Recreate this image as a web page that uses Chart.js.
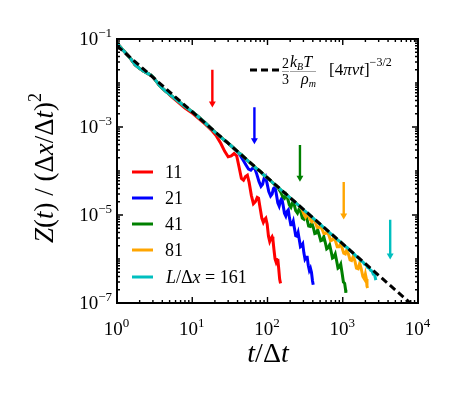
<!DOCTYPE html>
<html>
<head>
<meta charset="utf-8">
<script src="https://cdn.jsdelivr.net/npm/chart.js@4"></script>
<style>
  html, body { margin: 0; padding: 0; background: #fff; }
  #contenedor { width: 463px; height: 397px; }
</style>
</head>
<body>
<div id="contenedor"><canvas id="grafico" width="463" height="397"></canvas></div>
<script>
// ==== valores (t/Δt , Z) ====
const tInicio = [1, 1.15, 1.35, 1.55, 1.74, 1.95, 2.24, 2.55, 2.9, 3.3, 3.74, 4.5];
const zInicio = [0.08, 0.061, 0.045, 0.034, 0.026, 0.022, 0.0187, 0.0165, 0.0147, 0.0112, 0.0085, 0.0064];

const tMedio = [5.3, 6.24, 8, 10.3, 13, 15];
const zMedio = [0.0051, 0.0041, 0.0029, 0.00215, 0.00152, 0.00122];

const tRojo = [5.3, 6.24, 8, 10.3, 13, 15, 18, 21, 24, 27, 30, 33, 36, 39, 42, 45, 48, 51, 54, 57, 61, 65, 69, 73, 76, 80, 84, 88, 92, 95, 99, 103, 107, 111, 115, 118, 122, 126, 130, 134, 137, 141, 145, 149];
const zRojo = [0.0049, 0.0039, 0.0027, 0.002, 0.00142, 0.00115, 0.00085, 0.00062, 0.00042, 0.00028, 0.00021, 0.00022, 0.00025, 0.00022, 0.00012, 0.000068, 0.000062, 0.000075, 0.00008, 0.000055, 0.000028, 0.000018, 0.00002, 0.000025, 0.000024, 0.000014, 0.0000085, 0.0000068, 0.000008, 0.0000085, 0.0000062, 0.0000033, 0.0000025, 0.0000029, 0.0000032, 0.0000028, 0.0000016, 0.000001, 0.00000085, 0.00000098, 0.000001, 0.0000006, 0.00000035, 0.00000028];

const tCian = [17, 20, 25, 30, 35, 40, 45, 50, 60, 70, 80, 90, 100, 110, 125, 140, 160, 180, 200, 225, 250, 280, 310, 350, 400, 450, 500, 560, 620, 700, 780, 860, 950, 1050, 1150, 1250, 1350, 1450, 1550, 1650, 1750, 1850, 1950, 2050, 2150, 2250, 2350, 2450, 2550, 2650, 2750];
const zCian = [0.00099, 0.00077, 0.00055, 0.00043, 0.00034, 0.000272, 0.000235, 0.000196, 0.00015, 0.000117, 0.000098, 0.00008, 0.00007, 0.00006, 0.000049, 0.000042, 0.000034, 0.0000288, 0.0000245, 0.0000205, 0.0000175, 0.0000148, 0.0000126, 0.0000106, 0.0000086, 0.0000072, 0.0000062, 0.0000052, 0.0000045, 0.0000037, 0.0000032, 0.0000027, 0.0000024, 0.000002, 0.0000018, 0.00000155, 0.0000014, 0.00000124, 0.0000011, 0.00000102, 0.0000009, 0.00000086, 0.00000076, 0.00000073, 0.00000064, 0.00000062, 0.00000055, 0.00000053, 0.00000045, 0.00000044, 0.00000033];

const tAzul = [44, 48, 52, 56, 60, 64, 68, 72, 77, 82, 86, 90, 94, 98, 104, 110, 115, 120, 126, 131, 137, 143, 149, 155, 161, 168, 175, 182, 189, 196, 204, 212, 220, 228, 237, 246, 255, 264, 274, 284, 294, 304, 315, 326, 337, 348, 360, 372, 384, 396, 405];
const zAzul = [0.00022, 0.00017, 0.000135, 0.00011, 0.000104, 0.000118, 0.000112, 0.000085, 0.000058, 0.000045, 0.00005, 0.000068, 0.000075, 0.000055, 0.000034, 0.000027, 0.00003, 0.00004, 0.000043, 0.00003, 0.000019, 0.000016, 0.000021, 0.000024, 0.000017, 0.000011, 0.0000095, 0.000012, 0.000013, 0.0000085, 0.000006, 0.000006, 0.0000072, 0.000005, 0.0000034, 0.0000033, 0.000004, 0.0000028, 0.0000019, 0.000002, 0.0000022, 0.0000014, 0.000001, 0.0000011, 0.0000011, 0.00000072, 0.00000055, 0.00000062, 0.0000005, 0.00000032, 0.00000026];

const tVerde = [130, 140, 150, 160, 168, 176, 185, 195, 205, 215, 225, 237, 250, 262, 275, 290, 305, 320, 335, 352, 370, 388, 406, 425, 445, 465, 487, 510, 535, 560, 585, 612, 640, 670, 700, 730, 760, 795, 830, 865, 900, 940, 980, 1020, 1060, 1090, 1100];
const zVerde = [0.000047, 0.00004, 0.000033, 0.000026, 0.000024, 0.000029, 0.000024, 0.000017, 0.000015, 0.000019, 0.000018, 0.0000125, 0.000011, 0.0000135, 0.0000125, 0.0000085, 0.000008, 0.0000095, 0.000008, 0.0000056, 0.0000055, 0.0000065, 0.0000052, 0.0000038, 0.0000039, 0.0000046, 0.0000035, 0.0000026, 0.0000027, 0.0000032, 0.0000024, 0.0000017, 0.0000018, 0.0000021, 0.0000015, 0.00000105, 0.0000011, 0.0000013, 0.0000009, 0.00000062, 0.00000065, 0.00000076, 0.00000048, 0.0000003, 0.00000028, 0.0000002, 0.00000017];

const tNaranja = [270, 290, 305, 320, 335, 350, 370, 390, 410, 430, 455, 480, 505, 530, 560, 590, 620, 650, 690, 725, 760, 800, 845, 890, 935, 980, 1030, 1080, 1130, 1190, 1250, 1310, 1380, 1450, 1520, 1600, 1680, 1760, 1850, 1940, 2000, 2060, 2100, 2140];
const zNaranja = [0.0000155, 0.000013, 0.0000105, 0.000009, 0.0000105, 0.00001, 0.0000078, 0.000007, 0.000008, 0.000007, 0.0000053, 0.0000052, 0.0000058, 0.0000048, 0.0000038, 0.0000038, 0.0000042, 0.0000036, 0.0000026, 0.0000027, 0.0000031, 0.0000026, 0.0000019, 0.0000019, 0.0000022, 0.0000018, 0.00000135, 0.0000013, 0.0000016, 0.0000013, 0.00000095, 0.00000092, 0.00000115, 0.0000009, 0.00000062, 0.0000006, 0.0000008, 0.0000006, 0.0000004, 0.00000035, 0.00000045, 0.00000035, 0.00000024, 0.00000022];

// línea teórica (2/3)(kBT/ρm)[4πνt]^(-3/2)
const tTeoria = [1, 10000];
const zTeoria = [0.07, 0.00000007];

// flechas: posición en t, extremo superior e inferior
const tFlechas = [18.5, 67, 270, 1030, 4270];
const zFlechaArriba = [0.02, 0.0028, 0.00039, 0.000056, 0.0000078];
const zFlechaAbajo = [0.0034, 0.0005, 0.00007, 0.0000098, 0.0000012];
const coloresFlechas = ['#ff0000', '#0000ff', '#008000', '#ffa500', '#00bfbf'];

// ticks
const xTicks = [1, 10, 100, 1000, 10000];
const xExpon = ['0', '1', '2', '3', '4'];
const yTicks = [1e-1, 1e-3, 1e-5, 1e-7];
const yExpon = ['\u22121', '\u22123', '\u22125', '\u22127'];

const etiquetasLeyenda = ['11', '21', '41', '81'];
const coloresLeyenda = ['#ff0000', '#0000ff', '#008000', '#ffa500', '#00bfbf'];

// ==== helpers ====
function puntos(ts, zs) {
    return ts.map((t, i) => ({ x: t, y: zs[i] }));
}
function hasta(ts, zs, tMax) {
    const out = [];
    ts.forEach((t, i) => { if (t <= tMax) out.push({ x: t, y: zs[i] }); });
    return out;
}

const base = puntos(tInicio, zInicio);
const baseMedio = puntos(tMedio, zMedio);

const serieRoja = base.concat(puntos(tRojo, zRojo));
const serieAzul = base.concat(baseMedio, hasta(tCian, zCian, 40), puntos(tAzul, zAzul));
const serieVerde = base.concat(baseMedio, hasta(tCian, zCian, 125), puntos(tVerde, zVerde));
const serieNaranja = base.concat(baseMedio, hasta(tCian, zCian, 250), puntos(tNaranja, zNaranja));
const serieCian = base.concat(baseMedio, puntos(tCian, zCian));

function serie(data, color, orden) {
    return { data: data, borderColor: color, borderWidth: 3, pointRadius: 0, fill: false, tension: 0, order: orden };
}

const datasets = [
    serie(serieRoja, '#ff0000', 16),
    serie(serieAzul, '#0000ff', 15),
    serie(serieVerde, '#008000', 14),
    serie(serieNaranja, '#ffa500', 13),
    serie(serieCian, '#00bfbf', 12),
    { data: puntos(tTeoria, zTeoria), borderColor: '#000', borderWidth: 3, borderDash: [7, 4], pointRadius: 0, fill: false, order: 11 }
];
tFlechas.forEach((t, i) => {
    datasets.push({
        data: [{ x: t, y: zFlechaArriba[i] }, { x: t, y: zFlechaAbajo[i] }],
        borderColor: coloresFlechas[i], backgroundColor: coloresFlechas[i],
        borderWidth: 2.4, pointRadius: [0, 4], pointStyle: 'triangle', rotation: 180,
        pointBorderWidth: 0, fill: false, order: i
    });
});

// ==== texto estilo LaTeX ====
const SERIF = '"Liberation Serif", "DejaVu Serif", serif';
function fuente(tam, italica) {
    return (italica ? 'italic ' : '') + tam + 'px ' + SERIF;
}
// piezas: [texto, tamaño, italica, desplazamientoY]
function anchoPiezas(ctx, piezas) {
    let w = 0;
    piezas.forEach(p => { ctx.font = fuente(p[1], p[2]); w += ctx.measureText(p[0]).width; });
    return w;
}
function dibujarPiezas(ctx, piezas, x, y) {
    let cx = x;
    piezas.forEach(p => {
        ctx.font = fuente(p[1], p[2]);
        ctx.fillText(p[0], cx, y + (p[3] || 0));
        cx += ctx.measureText(p[0]).width;
    });
    return cx;
}
function potencia(ctx, x, y, exp, alinear) {
    const piezas = [['10', 19, false, 0], [exp, 13, false, -8]];
    const w = anchoPiezas(ctx, piezas) + 1;
    const x0 = alinear === 'centro' ? x - w / 2 : x - w;
    dibujarPiezas(ctx, piezas, x0, y);
}

const decoracion = {
    id: 'decoracion',
    afterDatasetsDraw(chart) {
        const ctx = chart.ctx;
        const a = chart.chartArea;
        const sx = chart.scales.x, sy = chart.scales.y;
        ctx.save();
        ctx.fillStyle = '#000';
        ctx.strokeStyle = '#000';
        ctx.textAlign = 'left';
        ctx.textBaseline = 'alphabetic';

        // ticks hacia adentro en los cuatro lados
        ctx.lineWidth = 1.4;
        function tickX(v, largo) {
            const px = sx.getPixelForValue(v);
            ctx.beginPath();
            ctx.moveTo(px, a.bottom); ctx.lineTo(px, a.bottom - largo);
            ctx.moveTo(px, a.top); ctx.lineTo(px, a.top + largo);
            ctx.stroke();
        }
        function tickY(v, largo) {
            const py = sy.getPixelForValue(v);
            ctx.beginPath();
            ctx.moveTo(a.left, py); ctx.lineTo(a.left + largo, py);
            ctx.moveTo(a.right, py); ctx.lineTo(a.right - largo, py);
            ctx.stroke();
        }
        xTicks.forEach((v, k) => {
            tickX(v, 6);
            if (k < xTicks.length - 1) for (let m = 2; m <= 9; m++) tickX(v * m, 3);
        });
        for (let d = -7; d < -1; d++) {
            for (let m = 1; m <= 9; m++) {
                if (m === 1 && (d === -7 || d === -5 || d === -3)) continue;
                tickY(m * Math.pow(10, d), 3);
            }
        }
        yTicks.forEach(v => tickY(v, 6));

        // marco
        ctx.lineWidth = 2;
        ctx.strokeRect(a.left, a.top, a.right - a.left, a.bottom - a.top);

        // etiquetas de ticks
        xTicks.forEach((v, i) => potencia(ctx, sx.getPixelForValue(v), 335, xExpon[i], 'centro'));
        yTicks.forEach((v, i) => potencia(ctx, a.left - 4, sy.getPixelForValue(v) + 6, yExpon[i], 'derecha'));

        // título eje x
        const tituloX = [['t', 28, true], ['/', 28, false], ['\u0394', 28, false], ['t', 28, true]];
        dibujarPiezas(ctx, tituloX, 268 - anchoPiezas(ctx, tituloX) / 2, 362);

        // título eje y
        const tituloY = [['Z', 27, true], ['(', 27, false], ['t', 27, true], [')', 27, false], [' / (', 27, false],
            ['\u0394', 27, false], ['x', 27, true], ['/', 27, false], ['\u0394', 27, false], ['t', 27, true], [')', 27, false], ['2', 18, false, -12]];
        ctx.save();
        ctx.translate(53, 168);
        ctx.rotate(-Math.PI / 2);
        dibujarPiezas(ctx, tituloY, -anchoPiezas(ctx, tituloY) / 2, 0);
        ctx.restore();

        // leyenda de series
        const yLeyenda = [172, 198, 224, 250, 277];
        ctx.lineWidth = 3;
        coloresLeyenda.forEach((c, i) => {
            ctx.strokeStyle = c;
            ctx.beginPath();
            ctx.moveTo(132, yLeyenda[i]); ctx.lineTo(153, yLeyenda[i]);
            ctx.stroke();
        });
        ctx.fillStyle = '#000';
        etiquetasLeyenda.forEach((txt, i) => dibujarPiezas(ctx, [[txt, 18, false]], 165, yLeyenda[i] + 6));
        dibujarPiezas(ctx, [['L', 18, true], ['/', 18, false], ['\u0394', 18, false], ['x', 18, true], [' = ', 18, false], ['161', 18, false]], 166, 283);

        // leyenda de la teoría
        ctx.strokeStyle = '#000';
        ctx.lineWidth = 3;
        ctx.setLineDash([7, 4]);
        ctx.beginPath(); ctx.moveTo(250, 70); ctx.lineTo(279, 70); ctx.stroke();
        ctx.setLineDash([]);
        ctx.lineWidth = 0.6;
        ctx.strokeStyle = '#666';
        ctx.beginPath(); ctx.moveTo(282, 71.5); ctx.lineTo(289, 71.5); ctx.moveTo(290, 71.5); ctx.lineTo(316, 71.5); ctx.stroke();
        dibujarPiezas(ctx, [['2', 14, false]], 282, 68);
        dibujarPiezas(ctx, [['3', 14, false]], 282, 84);
        dibujarPiezas(ctx, [['k', 16, true], ['B', 10, true, 3], ['T', 16, true]], 290, 67);
        dibujarPiezas(ctx, [['\u03c1', 16, true], ['m', 10, true, 3]], 301, 84);
        dibujarPiezas(ctx, [['[4', 17, false], ['\u03c0\u03bd', 17, true], ['t', 17, true], [']', 17, false], ['\u22123/2', 12, false, -9]], 329, 75);
        ctx.restore();
    }
};

const ctxGrafico = document.getElementById('grafico').getContext('2d');
new Chart(ctxGrafico, {
    type: 'line',
    data: { datasets: datasets },
    options: {
        responsive: false,
        animation: false,
        events: [],
        layout: { padding: { left: 117, right: 45, top: 39, bottom: 94 } },
        plugins: { legend: { display: false }, tooltip: { enabled: false } },
        scales: {
            x: { type: 'logarithmic', min: 1, max: 10000, display: false },
            y: { type: 'logarithmic', min: 1e-7, max: 1e-1, display: false }
        }
    },
    plugins: [decoracion]
});
</script>
</body>
</html>
